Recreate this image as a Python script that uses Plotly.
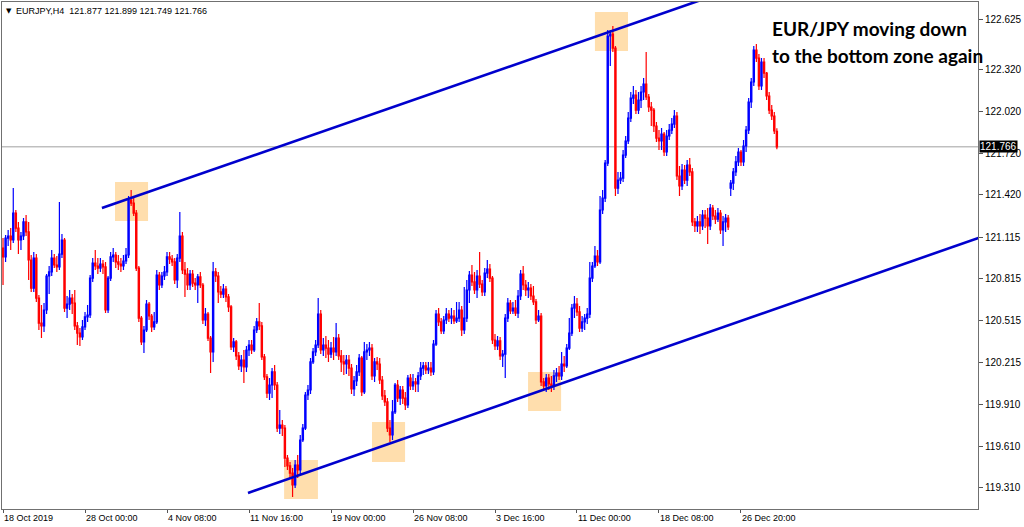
import plotly.graph_objects as go

# ---------------- data (EURJPY H4 candles) ----------------
opens = [
121.037,120.973,121.109,121.124,121.095,121.289,121.181,121.095,121.124,121.225,
121.153,120.951,120.749,120.965,120.677,120.497,120.476,120.591,120.836,120.865,
120.965,120.915,120.901,120.994,121.095,120.605,120.634,120.677,120.641,120.476,
120.425,120.397,120.469,120.541,120.555,120.821,120.929,120.908,120.893,120.922,
120.901,120.591,120.821,120.973,120.987,120.937,120.922,120.908,120.944,120.987,
121.383,121.361,121.289,120.893,120.533,120.361,120.447,120.634,120.548,120.469,
120.505,120.843,120.771,120.836,120.865,120.973,120.958,120.937,120.807,120.965,
121.124,120.879,120.850,120.771,120.850,120.785,120.771,120.829,120.771,120.519,
120.562,120.389,120.289,120.865,120.836,120.721,120.706,120.742,120.685,120.613,
120.325,120.361,120.260,120.188,120.231,120.181,120.303,120.339,120.303,120.447,
120.505,120.476,120.253,120.109,119.993,120.051,120.145,120.051,119.741,119.763,
119.741,119.525,119.468,119.417,119.331,119.475,119.439,119.655,119.741,119.979,
120.015,120.217,120.289,120.339,120.562,120.303,120.339,120.317,120.274,120.317,
120.289,120.389,120.260,120.217,120.202,120.231,120.173,120.022,120.080,120.145,
120.245,120.001,120.289,120.303,120.317,120.116,120.217,120.202,120.087,119.972,
119.929,119.741,119.691,119.857,120.051,119.957,120.015,119.957,119.907,120.101,
120.044,120.073,120.058,120.116,120.173,120.188,120.159,120.173,120.145,120.346,
120.562,120.505,120.440,120.519,120.562,120.533,120.548,120.512,120.533,120.591,
120.447,120.533,120.735,120.843,120.793,120.735,120.836,120.778,120.721,120.857,
120.886,120.821,120.375,120.332,120.368,120.260,120.274,120.533,120.641,120.584,
120.605,120.569,120.692,120.850,120.771,120.735,120.749,120.692,120.649,120.519,
120.548,120.073,120.044,120.101,120.058,120.044,120.116,120.137,120.116,120.202,
120.188,120.317,120.425,120.605,120.634,120.577,120.461,120.505,120.533,120.562,
120.821,120.908,120.980,120.937,121.311,121.397,121.649,122.564,122.578,122.477,
121.469,121.527,121.541,121.707,121.808,121.973,122.117,122.139,122.031,122.103,
122.161,122.218,122.125,122.053,122.031,121.916,121.829,121.808,121.858,121.729,
121.844,121.887,121.930,121.988,121.556,121.484,121.599,121.527,121.635,121.585,
121.225,121.196,121.225,121.196,121.275,121.253,121.196,121.325,121.268,121.246,
121.289,121.167,121.225,121.253,121.469,121.505,121.585,121.657,121.729,121.657,
121.772,121.887,122.089,122.233,122.463,122.405,122.204,122.377,122.297,122.132,
122.031,121.988,121.877]

highs = [
121.109,121.131,121.167,121.181,121.469,121.311,121.225,121.153,121.253,121.275,
121.225,120.987,121.009,120.994,120.699,120.627,120.641,120.850,120.908,121.023,
120.994,120.980,121.369,121.138,121.109,120.692,120.735,120.706,120.735,120.505,
120.461,120.519,120.577,120.627,120.843,120.965,121.023,120.965,120.965,120.951,
120.937,120.836,121.009,121.037,121.009,120.987,120.965,120.987,121.037,121.412,
121.455,121.397,121.311,120.908,120.548,120.476,120.663,120.649,120.562,120.577,
120.879,120.865,120.865,120.908,121.009,121.009,120.987,120.965,120.994,121.297,
121.153,120.937,120.893,120.879,120.879,120.821,120.850,120.865,120.785,120.605,
120.577,120.404,120.937,120.893,120.865,120.764,120.778,120.764,120.706,120.627,
120.389,120.375,120.289,120.267,120.303,120.332,120.375,120.375,120.476,120.533,
120.641,120.505,120.274,120.130,120.101,120.173,120.195,120.073,119.871,119.799,
119.763,119.547,119.497,119.453,119.511,119.547,119.691,119.770,120.001,120.051,
120.245,120.317,120.375,120.677,120.591,120.389,120.404,120.375,120.361,120.397,
120.497,120.418,120.303,120.267,120.267,120.267,120.202,120.116,120.195,120.274,
120.260,120.361,120.346,120.361,120.346,120.245,120.253,120.245,120.116,120.015,
119.957,119.799,119.943,120.065,120.087,120.044,120.044,120.001,120.123,120.130,
120.130,120.101,120.145,120.217,120.217,120.217,120.217,120.217,120.375,120.591,
120.605,120.533,120.548,120.605,120.591,120.605,120.591,120.649,120.649,120.620,
120.757,120.807,120.872,120.915,120.865,120.879,121.009,120.807,120.893,120.951,
120.922,120.836,120.418,120.404,120.397,120.303,120.562,120.677,120.663,120.649,
120.663,120.735,120.879,120.908,120.807,120.793,120.778,120.764,120.670,120.591,
120.569,120.101,120.130,120.130,120.116,120.159,120.173,120.188,120.289,120.260,
120.346,120.533,120.634,120.692,120.677,120.620,120.548,120.562,120.605,120.937,
120.937,121.052,121.023,121.412,121.455,121.671,122.607,122.607,122.636,122.492,
121.585,121.585,121.743,121.844,122.017,122.161,122.204,122.175,122.161,122.204,
122.261,122.449,122.146,122.089,122.045,121.945,121.887,121.901,121.873,121.887,
121.930,121.973,122.031,122.017,121.628,121.642,121.635,121.671,121.685,121.613,
121.253,121.268,121.282,121.311,121.311,121.325,121.354,121.347,121.311,121.325,
121.311,121.268,121.282,121.275,121.527,121.613,121.700,121.757,121.743,121.815,
121.916,122.117,122.261,122.492,122.506,122.434,122.405,122.405,122.305,122.161,
122.067,122.017,121.899]

lows = [
120.771,120.937,121.052,121.023,121.073,121.153,120.994,121.023,121.095,121.124,
120.807,120.721,120.721,120.649,120.447,120.389,120.433,120.562,120.706,120.836,
120.893,120.865,120.879,120.965,120.577,120.533,120.591,120.562,120.447,120.339,
120.332,120.375,120.447,120.505,120.533,120.793,120.879,120.850,120.865,120.850,
120.569,120.569,120.800,120.937,120.893,120.879,120.865,120.879,120.922,120.965,
121.340,121.268,120.872,120.505,120.339,120.281,120.433,120.519,120.433,120.447,
120.490,120.735,120.749,120.807,120.836,120.922,120.908,120.778,120.749,120.937,
120.850,120.685,120.735,120.735,120.757,120.735,120.641,120.749,120.490,120.476,
120.368,120.137,120.217,120.793,120.641,120.677,120.677,120.649,120.577,120.303,
120.289,120.231,120.159,120.145,120.065,120.145,120.260,120.274,120.289,120.425,
120.447,120.231,120.087,119.957,119.943,119.957,120.015,119.713,119.698,119.684,
119.461,119.439,119.381,119.245,119.309,119.381,119.410,119.641,119.727,119.943,
119.986,120.202,120.260,120.317,120.274,120.260,120.245,120.217,120.245,120.231,
120.260,120.231,120.145,120.123,120.130,120.116,119.986,119.972,120.044,120.116,
119.972,119.986,120.231,120.260,120.087,120.073,120.159,120.058,119.943,119.900,
119.713,119.641,119.655,119.842,119.929,119.907,119.914,119.871,119.885,120.015,
120.015,120.001,120.001,120.087,120.123,120.130,120.130,120.116,120.123,120.332,
120.476,120.418,120.418,120.490,120.505,120.490,120.490,120.497,120.505,120.404,
120.418,120.505,120.641,120.764,120.706,120.677,120.749,120.692,120.692,120.821,
120.793,120.346,120.303,120.303,120.231,120.181,120.101,120.505,120.562,120.562,
120.548,120.533,120.663,120.735,120.692,120.677,120.663,120.627,120.490,120.505,
120.044,120.015,120.001,120.015,120.001,120.015,120.073,120.087,120.087,120.145,
120.173,120.303,120.404,120.533,120.548,120.433,120.433,120.447,120.490,120.533,
120.793,120.893,120.908,120.922,121.282,121.369,121.628,122.348,122.449,121.412,
121.426,121.498,121.513,121.685,121.786,121.945,122.074,122.002,122.002,122.045,
122.103,122.103,122.017,121.916,121.873,121.801,121.743,121.743,121.700,121.700,
121.815,121.858,121.901,121.527,121.412,121.455,121.498,121.484,121.556,121.196,
121.153,121.153,121.138,121.167,121.181,121.066,121.167,121.239,121.210,121.225,
121.138,121.052,121.153,121.167,121.412,121.455,121.556,121.628,121.628,121.628,
121.729,121.858,122.045,122.204,122.377,122.175,122.175,122.261,122.103,122.002,
121.959,121.858,121.749]

closes = [
120.973,121.109,121.124,121.095,121.289,121.181,121.095,121.124,121.225,121.153,
120.951,120.749,120.965,120.677,120.497,120.476,120.591,120.836,120.865,120.965,
120.915,120.901,120.994,121.095,120.605,120.634,120.677,120.641,120.476,120.425,
120.397,120.469,120.541,120.555,120.821,120.929,120.908,120.893,120.922,120.901,
120.591,120.821,120.973,120.987,120.937,120.922,120.908,120.944,120.987,121.383,
121.361,121.289,120.893,120.533,120.361,120.447,120.634,120.548,120.469,120.505,
120.843,120.771,120.836,120.865,120.973,120.958,120.937,120.807,120.965,121.124,
120.879,120.850,120.771,120.850,120.785,120.771,120.829,120.771,120.519,120.562,
120.389,120.289,120.865,120.836,120.721,120.706,120.742,120.685,120.613,120.325,
120.361,120.260,120.188,120.231,120.181,120.303,120.339,120.303,120.447,120.505,
120.476,120.253,120.109,119.993,120.051,120.145,120.051,119.741,119.763,119.741,
119.525,119.468,119.417,119.331,119.475,119.439,119.655,119.741,119.979,120.015,
120.217,120.289,120.339,120.562,120.303,120.339,120.317,120.274,120.317,120.289,
120.389,120.260,120.217,120.202,120.231,120.173,120.022,120.080,120.145,120.245,
120.001,120.289,120.303,120.317,120.116,120.217,120.202,120.087,119.972,119.929,
119.741,119.691,119.857,120.051,119.957,120.015,119.957,119.907,120.101,120.044,
120.073,120.058,120.116,120.173,120.188,120.159,120.173,120.145,120.346,120.562,
120.505,120.440,120.519,120.562,120.533,120.548,120.512,120.533,120.591,120.447,
120.533,120.735,120.843,120.793,120.735,120.836,120.778,120.721,120.857,120.886,
120.821,120.375,120.332,120.368,120.260,120.274,120.533,120.641,120.584,120.605,
120.569,120.692,120.850,120.771,120.735,120.749,120.692,120.649,120.519,120.548,
120.073,120.044,120.101,120.058,120.044,120.116,120.137,120.116,120.202,120.188,
120.317,120.425,120.605,120.634,120.577,120.461,120.505,120.533,120.562,120.821,
120.908,120.980,120.937,121.311,121.397,121.649,122.564,122.578,122.477,121.469,
121.527,121.541,121.707,121.808,121.973,122.117,122.139,122.031,122.103,122.161,
122.218,122.125,122.053,122.031,121.916,121.829,121.808,121.858,121.729,121.844,
121.887,121.930,121.988,121.556,121.484,121.599,121.527,121.635,121.585,121.225,
121.196,121.225,121.196,121.275,121.253,121.196,121.325,121.268,121.246,121.289,
121.167,121.225,121.253,121.189,121.505,121.585,121.657,121.729,121.657,121.772,
121.887,122.089,122.233,122.463,122.405,122.204,122.377,122.297,122.132,122.031,
121.988,121.880,121.766]

x_tick_index = [0, 32, 64, 96, 128, 160, 192, 224, 256, 288]
x_tick_text = ["18 Oct 2019", "28 Oct 00:00", "4 Nov 08:00", "11 Nov 16:00",
               "19 Nov 00:00", "26 Nov 08:00", "3 Dec 16:00", "11 Dec 00:00",
               "18 Dec 08:00", "26 Dec 20:00"]

y_tick_vals = [122.686, 122.320, 122.020, 121.720, 121.420, 121.115, 120.815,
               120.515, 120.215, 119.910, 119.610, 119.310]
y_tick_text = ["122.625", "122.320", "122.020", "121.720", "121.420", "121.115",
               "120.815", "120.515", "120.215", "119.910", "119.610", "119.310"]

last_price = 121.766
header = "EURJPY,H4  121.877 121.899 121.749 121.766"

# highlighted touch zones (bar index range, price range)
zone_x0 = [43.7, 109.7, 144.0, 204.9, 231.0]
zone_x1 = [56.6, 122.9, 156.9, 217.8, 243.9]
zone_lo = [121.232, 119.230, 119.497, 119.864, 122.456]
zone_hi = [121.513, 119.511, 119.785, 120.145, 122.737]

# channel lines (bar index, price)
upper_x = [38.6, 280.0]
upper_y = [121.325, 122.872]
lower_x = [95.6, 390.0]
lower_y = [119.273, 121.170]

# ---------------- figure ----------------
n = len(closes)
xs = list(range(n))

fig = go.Figure()

for x0, x1, lo, hi in zip(zone_x0, zone_x1, zone_lo, zone_hi):
    fig.add_shape(type="rect", xref="x", yref="y", x0=x0, x1=x1, y0=lo, y1=hi,
                  fillcolor="#FFDEAD", line_width=0, layer="below")

fig.add_shape(type="line", xref="paper", yref="y", x0=0, x1=1,
              y0=last_price, y1=last_price,
              line=dict(color="#A0A0A0", width=1), layer="below")

fig.add_trace(go.Candlestick(
    x=xs, open=opens, high=highs, low=lows, close=closes,
    increasing=dict(line=dict(color="#0000FF", width=1.2), fillcolor="#0000FF"),
    decreasing=dict(line=dict(color="#FF0000", width=1.2), fillcolor="#FF0000"),
    whiskerwidth=0, hoverinfo="skip", showlegend=False))

for lx, ly in ((upper_x, upper_y), (lower_x, lower_y)):
    fig.add_trace(go.Scatter(x=lx, y=ly, mode="lines",
                             line=dict(color="#0000CD", width=2.6),
                             hoverinfo="skip", showlegend=False))

axis_font = dict(family="Liberation Sans, Arial, sans-serif", color="#000000")

fig.update_layout(
    width=1024, height=527,
    margin=dict(l=2, r=46, t=2, b=18),
    paper_bgcolor="white", plot_bgcolor="white",
    showlegend=False,
    xaxis=dict(range=[-0.4, 380.5], tickmode="array", tickvals=x_tick_index,
               ticktext=x_tick_text, ticks="outside", ticklen=3, tickcolor="#555",
               ticklabelposition="outside right",
               tickfont=dict(size=9, **axis_font),
               showgrid=False, zeroline=False, showline=True, mirror=True,
               linecolor="#707070", linewidth=1, rangeslider=dict(visible=False),
               fixedrange=True),
    yaxis=dict(range=[119.158, 122.809], side="right", tickmode="array",
               tickvals=y_tick_vals, ticktext=y_tick_text, ticks="outside",
               ticklen=4, tickcolor="#555", tickfont=dict(size=10, **axis_font),
               showgrid=False, zeroline=False, showline=True, mirror=True,
               linecolor="#707070", linewidth=1, fixedrange=True),
)

fig.add_annotation(xref="paper", yref="paper", x=0, y=1, xanchor="left", yanchor="top",
                   xshift=2, yshift=-3, text="▼", showarrow=False,
                   font=dict(size=7, color="#000", family="DejaVu Sans"))
fig.add_annotation(xref="paper", yref="paper", x=0, y=1, xanchor="left", yanchor="top",
                   xshift=12, yshift=-2, text=header, showarrow=False,
                   font=dict(size=9, **axis_font))

fig.add_annotation(xref="paper", yref="y", x=1, y=last_price, xanchor="left",
                   yanchor="middle", xshift=1, text=str(last_price), showarrow=False,
                   bgcolor="#000000", borderpad=0,
                   font=dict(size=10, color="#FFFFFF", family="Liberation Sans, Arial"))

title_font = dict(family="Lato, Open Sans, sans-serif", size=19, color="#000000")
fig.add_annotation(xref="paper", yref="paper", x=0, y=1, xanchor="left", yanchor="middle",
                   xshift=768, yshift=-26, text="<b>EUR/JPY moving down</b>",
                   showarrow=False, font=title_font)
fig.add_annotation(xref="paper", yref="paper", x=0, y=1, xanchor="left", yanchor="middle",
                   xshift=768, yshift=-53, text="<b>to the bottom zone again</b>",
                   showarrow=False, font=title_font)

fig.write_html("out.html", config={"displayModeBar": False},
               post_script="document.body.style.margin='0px';document.body.style.overflow='hidden';")
